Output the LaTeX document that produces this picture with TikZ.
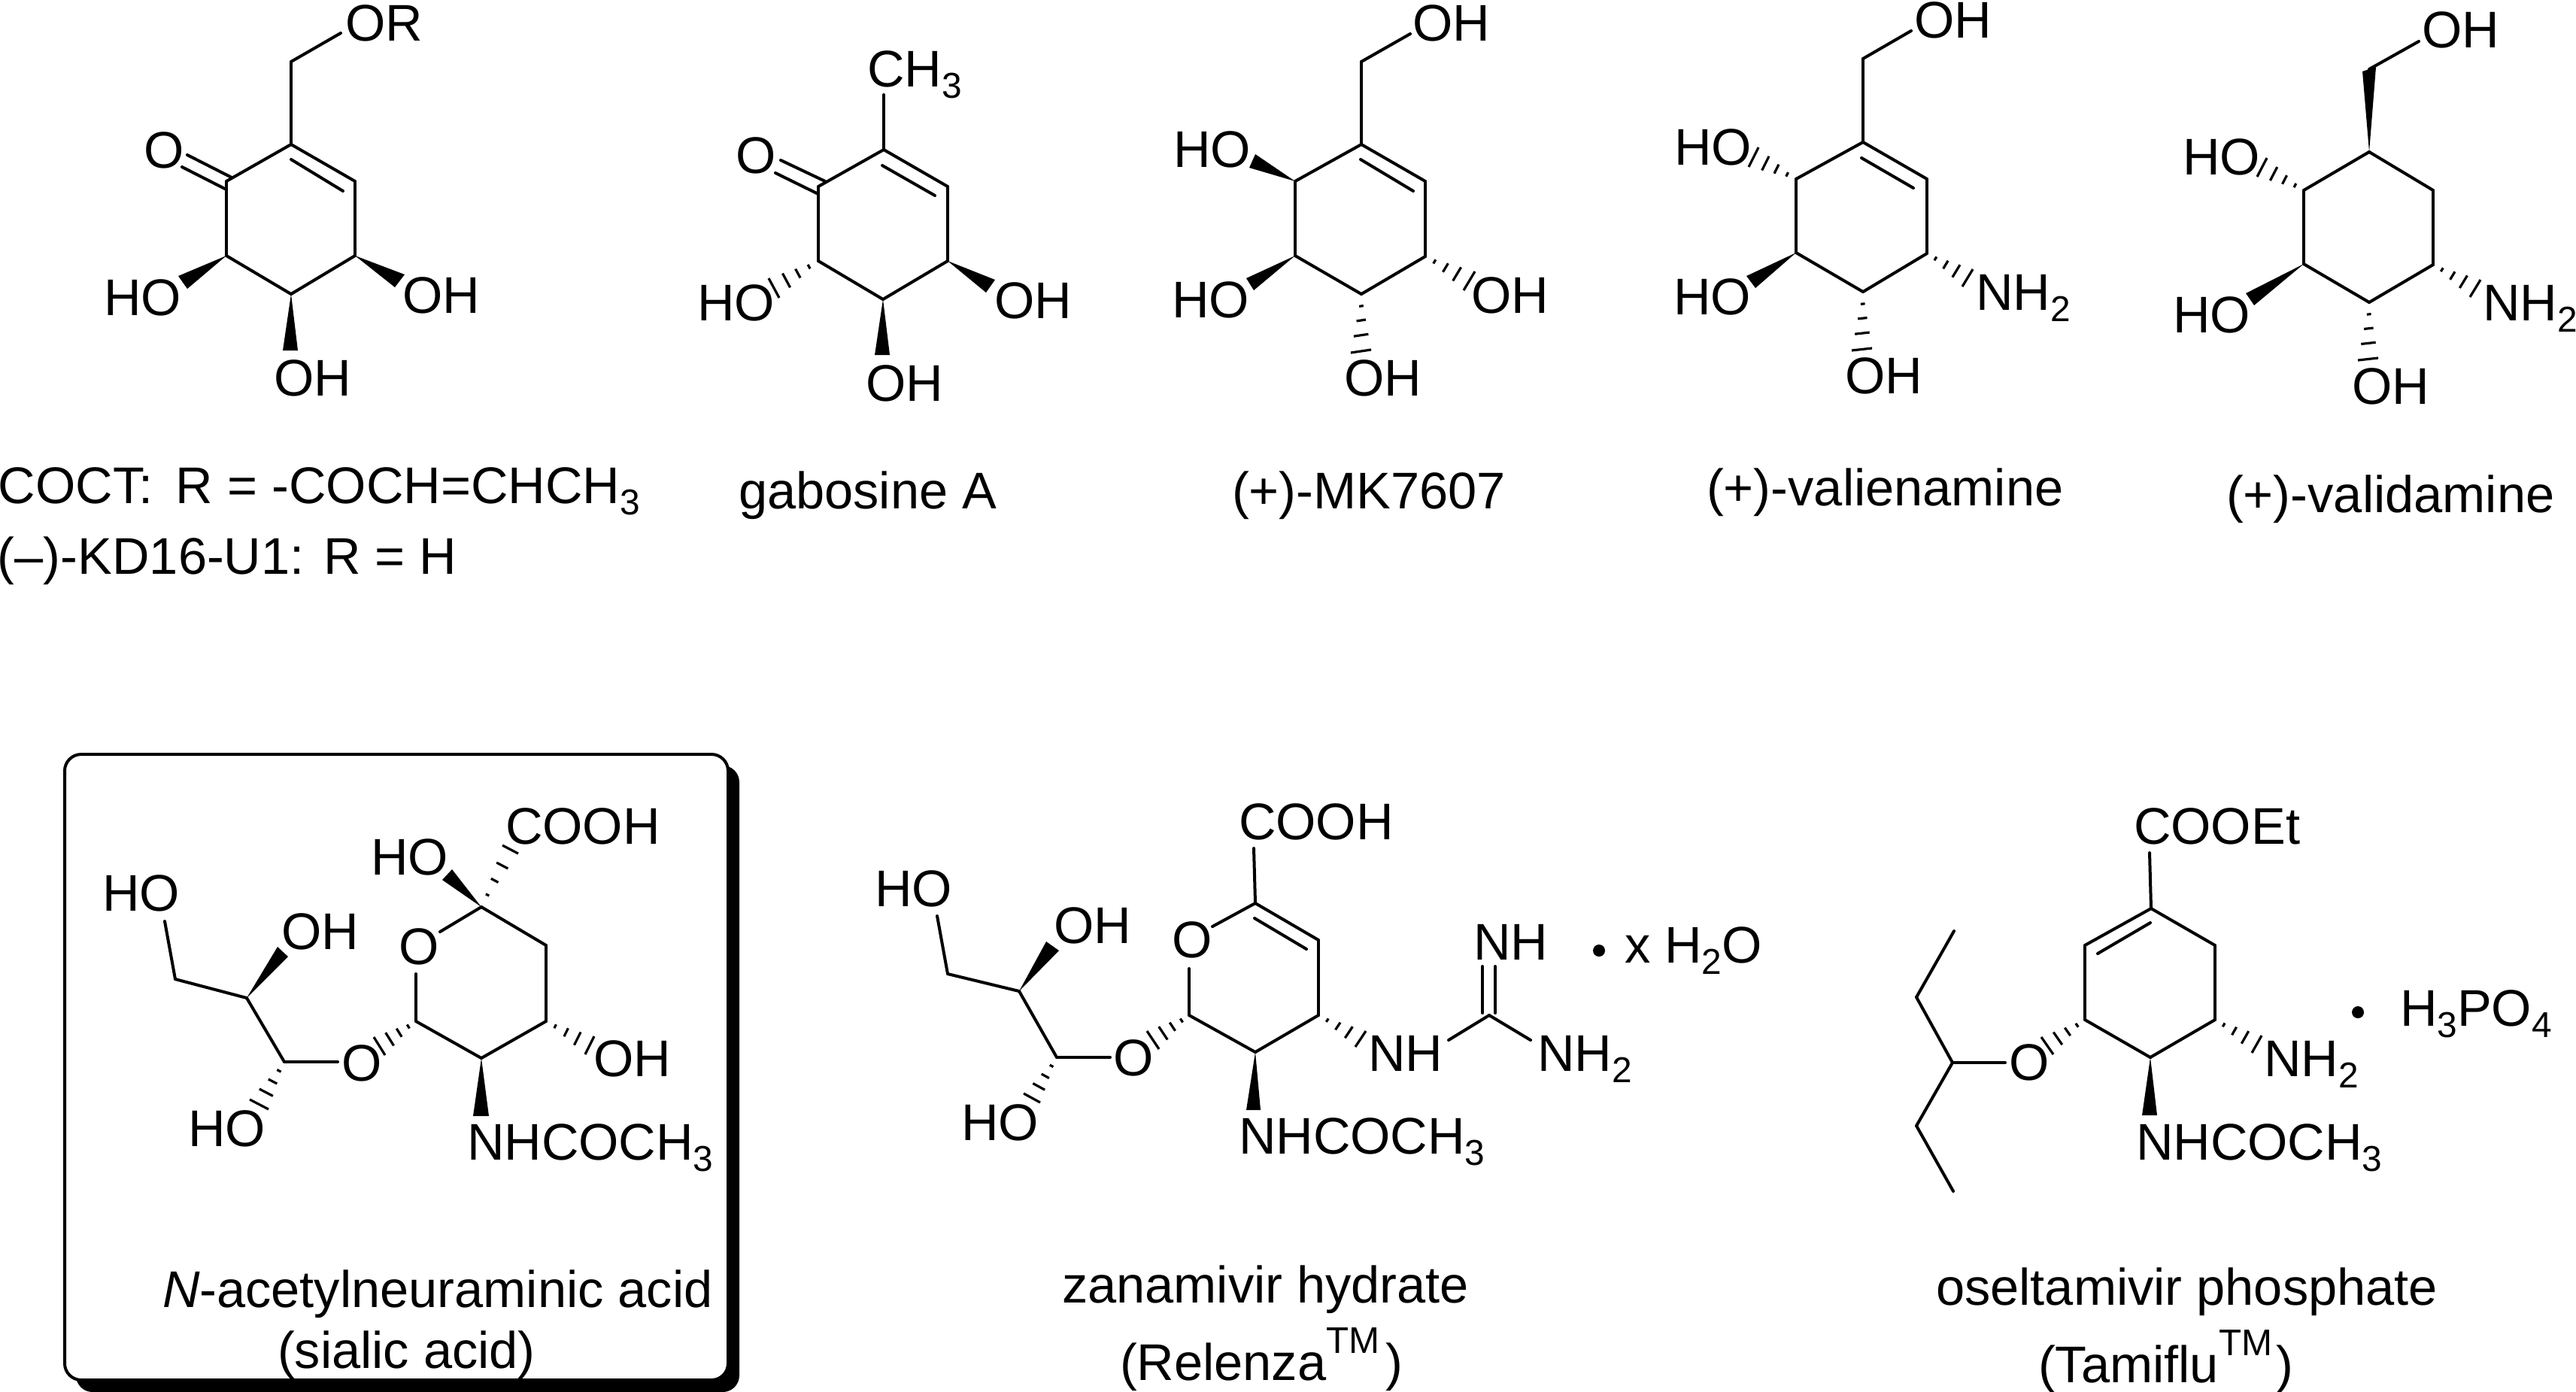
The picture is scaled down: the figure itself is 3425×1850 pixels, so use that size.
\documentclass[tikz,border=0pt]{standalone}
\usepackage{fontspec}
\setmainfont{Liberation Sans}
\usetikzlibrary{calc}
\newcommand\sbs[1]{\raisebox{-0.22em}{\fontsize{13.6}{14}\selectfont #1}}
\newcommand\tmk{\raisebox{0.52em}{\fontsize{14}{14}\selectfont TM}}
\newcommand\setatoms[2]{\foreach \n/\x/\y in {#2} {\coordinate (#1\n) at (\x,\y);}}
\newcommand\linkbonds[2]{\foreach \p/\q in {#2} {\draw[bond] (#1\p) -- (#1\q);}}
\newcommand\wb[4]{\coordinate (#1-a) at (#3); \coordinate (#1-b) at (#4); \fill[black] (#2) -- (#1-a) -- (#1-b) -- cycle;}
\newcommand\hb[4]{\coordinate (#1-a) at (#3); \coordinate (#1-b) at (#4);
  \foreach \f in {.21,.46,.72,1} {\draw[hashline] ($(#2)!\f!(#1-a)$) -- ($(#2)!\f!(#1-b)$);}}
\tikzset{
  bond/.style={line width=0.04cm,line cap=round,line join=round},
  hashline/.style={line width=0.032cm},
  lab/.style={inner sep=0pt,outer sep=0pt,anchor=base west,font=\fontsize{19.5}{23}\selectfont},
  saltdot/.style={circle,fill=black,inner sep=0pt,minimum size=0.16cm},
}
\begin{document}
\begin{tikzpicture}[x=0.01cm,y=-0.01cm]
\useasboundingbox (0,0) rectangle (3425,1850);

% ---------- COCT
\setatoms{a}{1/387/192,2/472/241,3/472/340,4/387/391,5/301/340,6/301/241,7/387/82,8/453/44,
  d1/387/212,d2/456/254,o1/249/206,o2/308/236,o3/242/222,o4/299/251}
\linkbonds{a}{1/2,2/3,3/4,4/5,5/6,6/1,1/7,7/8,d1/d2,o1/o2,o3/o4}
\wb{aw1}{a5}{237,367}{249,384}
\wb{aw2}{a3}{538,365}{525,382}
\wb{aw3}{a4}{376,466}{396,466}
\node[lab] (aOR) at (459,54) {OR};
\node[lab] (aO) at (191,223) {O};
\node[lab] (aHO) at (138,419) {HO};
\node[lab] (aOHr) at (535,416) {OH};
\node[lab] (aOHb) at (364,526) {OH};
\node[lab] (acap1) at (-2,669) {COCT:\hspace{0.11cm} R = -COCH=CHCH\sbs{3}};
\node[lab] (acap2) at (-3,763) {(–)-KD16-U1: R = H};

% ---------- gabosine A
\setatoms{b}{1/1175/199,2/1260/248,3/1260/347,4/1174/398,5/1088/347,6/1088/248,7/1175/126,
  d1/1173/220,d2/1243/260,o1/1038/213,o2/1097/241,o3/1031/230,o4/1088/258}
\linkbonds{b}{1/2,2/3,3/4,4/5,5/6,6/1,1/7,d1/d2,o1/o2,o3/o4}
\hb{bh1}{b5}{1022,370}{1036,396}
\wb{bw1}{b3}{1323,372}{1311,389}
\wb{bw2}{b4}{1163,472}{1183,472}
\node[lab] (bCH) at (1153,115) {CH\sbs{3}};
\node[lab] (bO) at (978,230) {O};
\node[lab] (bHO) at (927,426) {HO};
\node[lab] (bOHr) at (1322,423) {OH};
\node[lab] (bOHb) at (1151,533) {OH};
\node[lab] (bcap) at (982,676) {gabosine A};

% ---------- MK7607
\setatoms{c}{1/1810/192,2/1895/241,3/1895/341,4/1810/391,5/1722/340,6/1722/241,7/1810/82,8/1875/45,
  d1/1809/212,d2/1879/254}
\linkbonds{c}{1/2,2/3,3/4,4/5,5/6,6/1,1/7,7/8,d1/d2}
\wb{cw1}{c6}{1669,205}{1661,223}
\wb{cw2}{c5}{1657,370}{1667,386}
\hb{ch1}{c3}{1961,361}{1946,386}
\hb{ch2}{c4}{1796,469}{1823,465}
\node[lab] (cOH) at (1878,54) {OH};
\node[lab] (cHOt) at (1560,222) {HO};
\node[lab] (cHOb) at (1558,422) {HO};
\node[lab] (cOHr) at (1956,416) {OH};
\node[lab] (cOHb) at (1787,526) {OH};
\node[lab] (ccap) at (1638,676) {(+)-MK7607};

% ---------- valienamine
\setatoms{e}{1/2477/189,2/2562/238,3/2562/337,4/2477/388,5/2388/336,6/2388/238,7/2477/78,8/2541/41,
  d1/2475/210,d2/2544/250}
\linkbonds{e}{1/2,2/3,3/4,4/5,5/6,6/1,1/7,7/8,d1/d2}
\hb{eh1}{e6}{2338,196}{2325,222}
\wb{ew1}{e5}{2322,367}{2334,383}
\hb{eh2}{e3}{2623,358}{2609,381}
\hb{eh3}{e4}{2462,466}{2489,463}
\node[lab] (eOH) at (2545,50) {OH};
\node[lab] (eHOt) at (2226,219) {HO};
\node[lab] (eHOb) at (2225,418) {HO};
\node[lab] (eNH) at (2627,412) {NH\sbs{2}};
\node[lab] (eOHb) at (2453,523) {OH};
\node[lab] (ecap) at (2269,672) {(+)-valienamine};

% ---------- validamine
\setatoms{f}{1/3150/202,2/3235/253,3/3235/352,4/3150/402,5/3063/351,6/3063/253,7/3150/92,8/3216/55}
\linkbonds{f}{1/2,2/3,3/4,4/5,5/6,6/1,7/8}
\wb{fw0}{f1}{3141,95}{3159,89}
\hb{fh1}{f6}{3014,210}{3001,235}
\wb{fw1}{f5}{2986,390}{2997,406}
\hb{fh2}{f3}{3298,372}{3284,395}
\hb{fh3}{f4}{3135,479}{3162,476}
\node[lab] (fOH) at (3220,63) {OH};
\node[lab] (fHOt) at (2902,232) {HO};
\node[lab] (fHOb) at (2889,442) {HO};
\node[lab] (fNH) at (3301,426) {NH\sbs{2}};
\node[lab] (fOHb) at (3127,537) {OH};
\node[lab] (fcap) at (2960,681) {(+)-validamine};

% ---------- sialic acid box
\fill[black,rounded corners=0.22cm] (101,1018) rectangle (983,1851);
\draw[fill=white,line width=0.04cm,rounded corners=0.22cm] (86,1003) rectangle (968,1835);
\setatoms{g}{1/640/1206,2/726/1257,3/726/1358,4/640/1407,5/553/1358,6/553/1295,7/585/1239,
  8/449/1412,9/378/1412,10/328/1327,11/233/1302,12/219/1225}
\linkbonds{g}{1/2,2/3,3/4,4/5,5/6,7/1,8/9,9/10,10/11,11/12}
\hb{gh1}{g1}{668,1124}{689,1135}
\wb{gw1}{g1}{601,1156}{588,1170}
\hb{gh2}{g3}{790,1378}{778,1402}
\wb{gw2}{g4}{629,1484}{650,1484}
\hb{gh3}{g5}{497,1379}{512,1403}
\wb{gw3}{g10}{369,1259}{383,1272}
\hb{gh4}{g9}{357,1475}{332,1462}
\node[lab] (gO) at (530,1282) {O};
\node[lab] (gCOOH) at (672,1122) {COOH};
\node[lab] (gHO) at (493,1163) {HO};
\node[lab] (gOHr) at (789,1431) {OH};
\node[lab] (gNH) at (621,1542) {NHCOCH\sbs{3}};
\node[lab] (gOl) at (454,1437) {O};
\node[lab] (gHOt) at (136,1211) {HO};
\node[lab] (gOHc) at (374,1262) {OH};
\node[lab] (gHOb) at (250,1524) {HO};
\node[lab] (gcap1) at (216,1738) {\itshape N\upshape -acetylneuraminic acid};
\node[lab] (gcap2) at (369,1819) {(sialic acid)};

% ---------- zanamivir
\setatoms{h}{1/1669/1201,2/1753/1250,3/1753/1350,4/1669/1399,5/1581/1350,6/1581/1288,7/1612/1232,
  d1/1668/1221,d2/1737/1262,8/1667/1128,
  9/1476/1406,10/1405/1406,11/1355/1318,12/1260/1295,13/1246/1218,
  g/1980/1350,g1/1926/1383,g2/2035/1383,g3/1971/1285,g4/1971/1347,g5/1988/1285,g6/1988/1347}
\linkbonds{h}{1/2,2/3,3/4,4/5,5/6,7/1,d1/d2,1/8,9/10,10/11,11/12,12/13,g/g1,g/g2,g3/g4,g5/g6}
\hb{hh1}{h3}{1816,1371}{1802,1392}
\wb{hw1}{h4}{1657,1476}{1676,1476}
\hb{hh2}{h5}{1525,1371}{1541,1395}
\wb{hw2}{h11}{1391,1252}{1408,1264}
\hb{hh3}{h10}{1383,1466}{1361,1454}
\node[lab] (hO) at (1558,1273) {O};
\node[lab] (hCOOH) at (1647,1116) {COOH};
\node[lab] (hNHa) at (1819,1424) {NH};
\node[lab] (hNHb) at (2044,1424) {NH\sbs{2}};
\node[lab] (hNHc) at (1959,1276) {NH};
\node[saltdot] (hdot) at (2126,1264) {};
\node[lab] (hw) at (2160,1280) {x H\sbs{2}O};
\node[lab] (hNHAc) at (1647,1534) {NHCOCH\sbs{3}};
\node[lab] (hOl) at (1480,1430) {O};
\node[lab] (hHOt) at (1163,1205) {HO};
\node[lab] (hOHc) at (1401,1254) {OH};
\node[lab] (hHOb) at (1278,1516) {HO};
\node[lab] (hcap1) at (1412,1732) {zanamivir hydrate};
\node[lab] (hcap2) at (1489,1835) {(Relenza\tmk\hspace{0.08cm})};

% ---------- oseltamivir
\setatoms{k}{1/2860/1208,2/2945/1257,3/2945/1356,4/2859/1406,5/2772/1356,6/2772/1257,7/2858/1134,
  d1/2859/1227,d2/2789/1268,8/2666/1413,9/2596/1413,10/2548/1326,11/2598/1238,12/2548/1497,13/2597/1584}
\linkbonds{k}{1/2,2/3,3/4,4/5,5/6,6/1,1/7,d1/d2,8/9,9/10,10/11,9/12,12/13}
\hb{kh1}{k3}{3007,1377}{2994,1400}
\wb{kw1}{k4}{2848,1483}{2868,1483}
\hb{kh2}{k5}{2714,1379}{2730,1402}
\node[lab] (kCOOEt) at (2837,1122) {COOEt};
\node[saltdot] (kdot) at (3135,1346) {};
\node[lab] (kH) at (3191,1364) {H\sbs{3}PO\sbs{4}};
\node[lab] (kNH) at (3010,1431) {NH\sbs{2}};
\node[lab] (kNHAc) at (2840,1542) {NHCOCH\sbs{3}};
\node[lab] (kO) at (2671,1436) {O};
\node[lab] (kcap1) at (2574,1735) {oseltamivir phosphate};
\node[lab] (kcap2) at (2710,1838) {(Tamif{}lu\tmk\hspace{0.05cm})};
\end{tikzpicture}
\end{document}
